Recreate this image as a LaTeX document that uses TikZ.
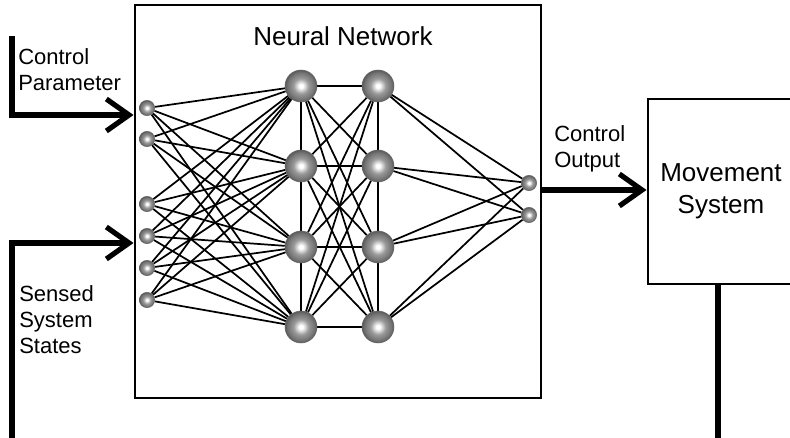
\documentclass[tikz,border=0pt]{standalone}
\usepackage{fontspec}
\setmainfont{Liberation Sans}
\usetikzlibrary{arrows.meta,backgrounds}

\pgfdeclareradialshading{neuronball}{\pgfpoint{0bp}{0bp}}{color(0bp)=(white); color(3bp)=(white); color(12bp)=(gray!80); color(21bp)=(gray!90!black); color(25bp)=(gray!70!black); color(50bp)=(gray!70!black)}

\begin{document}
\begin{tikzpicture}[x=0.75pt,y=0.75pt,yscale=-1,xscale=1,
  neuron/.style={circle,inner sep=0pt,minimum size=24pt,shading=neuronball,draw=black!60,line width=0.4pt},
  smallneuron/.style={neuron,minimum size=11.5pt},
  link/.style={line width=1.3pt},
  blockbox/.style={draw,line width=2.2pt,inner sep=0pt},
  bigarrow/.style={line width=3.9pt,-{Straight Barb[length=17pt,width=24pt]}},
  thickline/.style={line width=3.9pt},
  smalltext/.style={inner sep=0pt,align=left,font=\fontsize{16.5}{19.5}\selectfont},
  bigtext/.style={inner sep=0pt,align=center,font=\fontsize{19.5}{24}\selectfont}]
\useasboundingbox (0,0) rectangle (790,438);

%Shape: Rectangle [neural network]
\node[blockbox,minimum width=304.5pt,minimum height=294.75pt] (nn) at (338,201.5) {};
%Shape: Rectangle [movement system]
\node[blockbox,bigtext,minimum width=109.5pt,minimum height=138.75pt] (mv) at (721,191.5) {Movement\\System};

% Neurons
\foreach \y [count=\i] in {108,139,204,236,268,300}
  \node[smallneuron] (in\i) at (147,\y) {};
\foreach \y [count=\i] in {86,166,247,327} {
  \node[neuron] (ha\i) at (301,\y) {};
  \node[neuron] (hb\i) at (378,\y) {};
}
\node[smallneuron] (out1) at (529,183) {};
\node[smallneuron] (out2) at (529,215) {};

% Links
\begin{scope}[on background layer]
\foreach \i in {1,...,6}
  \foreach \j in {1,...,4}
    \draw[link] (in\i) -- (ha\j);
\foreach \i in {1,...,4} {
  \foreach \j in {1,...,4}
    \draw[link] (ha\i) -- (hb\j);
  \draw[link] (hb\i) -- (out1);
  \draw[link] (hb\i) -- (out2);
}
\draw[link] (ha1) -- (ha4);
\draw[link] (hb1) -- (hb4);
\end{scope}

% Text Node
\node[bigtext] (nntitle) at (343,36) {Neural Network};
% Text Node
\node[smalltext,anchor=west] (cplabel) at (18,70) {Control\\Parameter};
% Text Node
\node[smalltext,anchor=west] (sslabel) at (19,320) {Sensed\\System\\States};
% Text Node
\node[smalltext,anchor=west] (colabel) at (554,149) {Control\\Output};

%Straight Lines [arrows]
\coordinate (cptop) at (12,36);
\coordinate (ssbot) at (12,445);
\coordinate (mvbot) at (718,445);
\draw[bigarrow] (cptop) |- (nn.west |- 0,115);
\draw[bigarrow] (ssbot) |- (nn.west |- 0,243);
\draw[bigarrow] (nn.east |- 0,190) -- (mv.west |- 0,190);
\draw[thickline] (mv.south -| mvbot) -- (mvbot);

\end{tikzpicture}
\end{document}
